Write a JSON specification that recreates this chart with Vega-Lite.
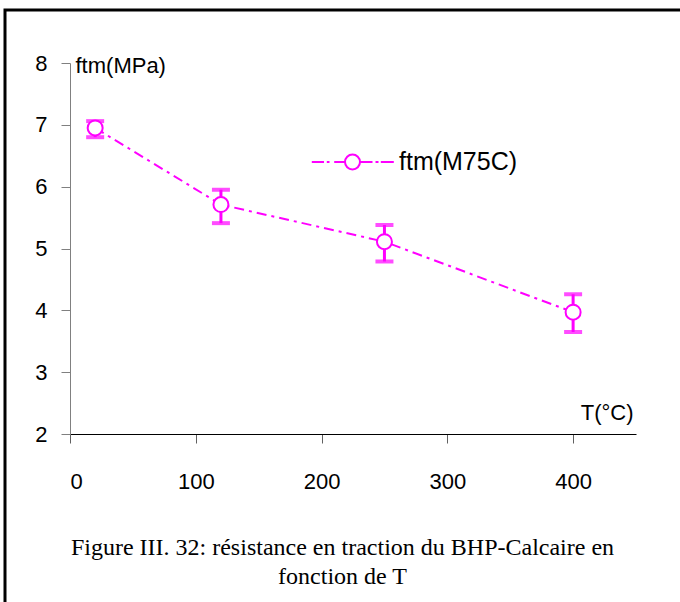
{
  "$schema": "https://vega.github.io/schema/vega-lite/v6.json",
  "width": 675,
  "height": 592,
  "autosize": "none",
  "padding": {"left": 5, "top": 10, "right": 0, "bottom": 0},
  "background": "white",
  "title": {
    "text": ["Figure III. 32: résistance en traction du BHP-Calcaire en", "fonction de T"],
    "orient": "bottom",
    "anchor": "middle",
    "frame": "group",
    "offset": -47,
    "baseline": "alphabetic",
    "font": "Liberation Serif",
    "fontSize": 24,
    "fontWeight": "normal",
    "color": "black",
    "lineHeight": 29
  },
  "data": {
    "values": [
      {"T": 20, "ftm": 6.95, "lo": 6.80, "hi": 7.06},
      {"T": 120, "ftm": 5.71, "lo": 5.41, "hi": 5.95},
      {"T": 250, "ftm": 5.11, "lo": 4.79, "hi": 5.38},
      {"T": 400, "ftm": 3.97, "lo": 3.65, "hi": 4.26}
    ]
  },
  "layer": [
    {
      "mark": {
        "type": "errorbar",
        "ticks": {"size": 18, "thickness": 4, "color": "#FF00FF"},
        "rule": {"strokeWidth": 3, "color": "#FF00FF"}
      },
      "encoding": {
        "x": {
          "field": "T", "type": "quantitative",
          "scale": {"domain": [0, 450], "range": [65, 631], "nice": false, "zero": false},
          "axis": {
            "values": [0, 100, 200, 300, 400],
            "format": "d",
            "offset": -168,
            "domainColor": "black",
            "tickColor": "#606060",
            "tickSize": 9,
            "labelPadding": 28,
            "title": "T(°C)",
            "titleX": 628,
            "titleY": -15,
            "titleAlign": "right",
            "titleBaseline": "alphabetic"
          }
        },
        "y": {
          "field": "lo", "type": "quantitative",
          "scale": {"domain": [2, 8], "range": [424, 53], "nice": false, "zero": false},
          "axis": {
            "values": [2, 3, 4, 5, 6, 7, 8],
            "format": "d",
            "offset": -65,
            "domainColor": "#808080",
            "tickColor": "#808080",
            "tickSize": 9,
            "labelPadding": 14,
            "title": "ftm(MPa)",
            "titleAngle": 0,
            "titleX": 5,
            "titleY": 62,
            "titleAlign": "left",
            "titleBaseline": "alphabetic"
          }
        },
        "y2": {"field": "hi"}
      }
    },
    {
      "mark": {"type": "line", "color": "#FF00FF", "strokeWidth": 2, "strokeDash": [10, 5, 3, 5]},
      "encoding": {
        "x": {"field": "T", "type": "quantitative"},
        "y": {"field": "ftm", "type": "quantitative"}
      }
    },
    {
      "mark": {"type": "point", "filled": false, "fill": "white", "strokeWidth": 2, "size": 225, "opacity": 1},
      "encoding": {
        "x": {"field": "T", "type": "quantitative"},
        "y": {"field": "ftm", "type": "quantitative"},
        "color": {
          "datum": "ftm(M75C)",
          "scale": {"range": ["#FF00FF"]},
          "legend": {
            "orient": "none",
            "legendX": 335,
            "legendY": 139.5,
            "title": null,
            "symbolType": "M-8.14,0L-5.7,0M-5.14,0L-4.6,0M-3.66,0L-1.6,0M1.6,0L4,0M4.6,0L5.2,0M5.66,0L8.26,0M1.5,0A1.5,1.5 0 1,1 -1.5,0A1.5,1.5 0 1,1 1.5,0Z",
            "symbolSize": 100,
            "symbolStrokeWidth": 2,
            "symbolFillColor": "white",
            "symbolOpacity": 1,
            "labelFontSize": 25,
            "labelFont": "Liberation Sans",
            "labelColor": "black",
            "labelOffset": 34
          }
        }
      }
    }
  ],
  "config": {
    "font": "Liberation Sans",
    "view": {"stroke": "black", "strokeWidth": 3, "strokeDash": [675, 1267, 592]},
    "axis": {
      "grid": false,
      "labelFont": "Liberation Sans",
      "titleFont": "Liberation Sans",
      "labelFontSize": 22,
      "titleFontSize": 22,
      "labelColor": "black",
      "titleColor": "black",
      "titleFontWeight": "normal",
      "domainWidth": 1,
      "tickWidth": 1
    },
    "legend": {"padding": 0}
  }
}
